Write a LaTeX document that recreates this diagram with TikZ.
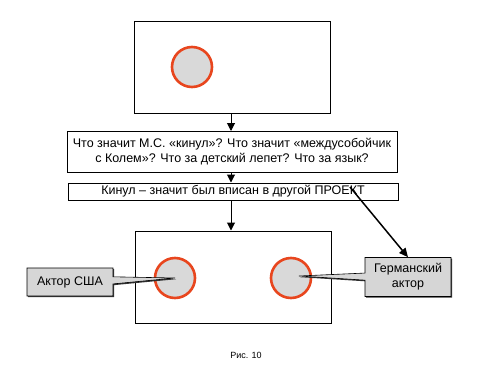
\documentclass[tikz,border=0pt]{standalone}
\usepackage{fontspec}
\setmainfont{Liberation Sans}
\usetikzlibrary{positioning, arrows.meta, shapes.callouts, shadows}
\definecolor{ringred}{HTML}{E8461E}
\definecolor{discgray}{HTML}{D9D9D9}
\definecolor{notegray}{HTML}{D6D6D6}

\begin{document}
\begin{tikzpicture}[x=1pt, y=-1pt,
    panel/.style={draw, line width=1pt, fill=white, inner sep=0pt},
    disc/.style={circle, draw=ringred, line width=2.6pt, fill=discgray, minimum size=40pt, inner sep=0pt},
    textbox/.style={draw, line width=1pt, fill=white, align=center, inner sep=0pt, font=\fontsize{12.5}{15}\selectfont},
    note/.style={rectangle callout, draw, line width=0.6pt, fill=notegray, align=center, inner sep=0pt,
      font=\fontsize{12.5}{15}\selectfont,
      drop shadow={shadow xshift=1.2pt, shadow yshift=-1.2pt, fill=black!80, opacity=1}},
    flow/.style={-{Triangle[width=8pt,length=8pt]}, line width=1pt}]
  \useasboundingbox (0,0) rectangle (500,375);
  % upper panel
  \node[panel, minimum width=196, minimum height=92] (upper) at (232,67) {};
  \node[disc] (d1) at (192,67) {};
  % questions
  \node[textbox, minimum width=330, minimum height=41] (quest) at (232,152)
    {Что значит М.С. «кинул»? Что значит «междусобойчик\\с Колем»? Что за детский лепет? Что за язык?};
  \node[textbox, minimum width=330, minimum height=17] (answ) at (233,191.5)
    {Кинул – значит был вписан в другой ПРОЕКТ};
  % lower panel
  \node[panel, minimum width=196, minimum height=92] (lower) at (233,277) {};
  \node[disc] (d2) at (175,278) {};
  \node[disc] (d3) at (291,278) {};
  \draw[flow] (upper.south -| 231,0) -- (quest.north -| 231,0);
  \draw[flow] (quest.south -| 231,0) -- (answ.north -| 231,0);
  \draw[flow] (answ.south -| 231,0) -- (lower.north -| 231,0);
  \coordinate (proj) at (350,187);
  % actors
  \node[note, minimum width=86, minimum height=28, callout absolute pointer={(d2.center)}] (usa) at (70,282) {Актор США};
  \node[note, minimum width=86, minimum height=39, callout absolute pointer={(299,276)}] (ger) at (408,277) {Германский\\актор};
  \draw[-{Triangle[width=8pt,length=9pt]}, line width=1.5pt] (proj) -- (ger.north);
  \node[font=\fontsize{9}{11}\selectfont] (cap) at (246,355) {Рис. 10};
\end{tikzpicture}
\end{document}
